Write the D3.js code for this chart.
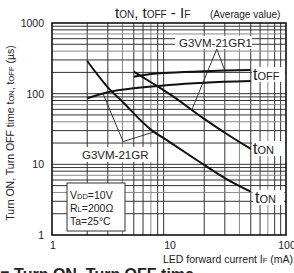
<!DOCTYPE html>
<html>
<head>
  <script src="https://d3js.org/d3.v7.min.js"></script>
  <style>
    body { margin: 0; background: #fff; }
    text { font-family: "Liberation Sans", Arial, sans-serif; fill: #222; }
  </style>
</head>
<body>
  <div id="chart"></div>

  <script>
    // values (IF in mA, time in microseconds)
    var xTicks = [1, 10, 100];
    var yTicks = [1, 10, 100, 1000];

    var gr1OffIf = [5, 7, 10, 20, 30, 50];
    var gr1Toff  = [174, 190, 198, 208, 212, 216];
    var grOffIf  = [2, 3, 5, 10, 20, 50];
    var grToff   = [86, 105, 119, 133, 143, 151];
    var gr1OnIf  = [5, 7, 10, 20, 30, 50];
    var gr1Ton   = [205, 145, 100, 44, 28, 16.5];
    var grOnIf   = [2, 3, 4, 7, 10, 20, 30, 50];
    var grTon    = [290, 123, 77, 31, 21, 9.8, 6.4, 4.1];

    // leader lines: [vertex, end1, end2]
    var gr1Leader = [[25.6, 428], [30, 212], [15.6, 58]];
    var grLeader  = [[4.05, 21], [2.73, 100], [7.6, 29]];

    var width = 294, height = 273;
    var margin = {top: 23, left: 52, right: 8, bottom: 38};

    var x = d3.scaleLog().domain([1, 100]).range([margin.left, width - margin.right]);
    var y = d3.scaleLog().domain([1, 1000]).range([height - margin.bottom, margin.top]);

    var svg = d3.select("#chart").append("svg")
      .attr("width", width)
      .attr("height", height);

    // grid at every minor step
    var gx = [], gy = [];
    [1, 10].forEach(function(d) { for (var i = 2; i <= 9; i++) gx.push(d * i); });
    [1, 10, 100].forEach(function(d) { for (var i = 2; i <= 9; i++) gy.push(d * i); });
    var grey = function(i) { return (i === 4 || i === 7) ? "#8a8a8a" : "#333"; };

    svg.append("g").selectAll("line").data(gx).enter().append("line")
      .attr("x1", function(d) { return x(d); })
      .attr("x2", function(d) { return x(d); })
      .attr("y1", y(1)).attr("y2", y(1000))
      .attr("stroke", function(d) { return grey(Math.round(d / Math.pow(10, Math.floor(Math.log10(d) + 1e-9)))); })
      .attr("stroke-width", 1);

    svg.append("g").selectAll("line").data(gy.concat([10, 100])).enter().append("line")
      .attr("y1", function(d) { return y(d); })
      .attr("y2", function(d) { return y(d); })
      .attr("x1", x(1)).attr("x2", x(100))
      .attr("stroke", function(d) { return grey(Math.round(d / Math.pow(10, Math.floor(Math.log10(d) + 1e-9)))); })
      .attr("stroke-width", 1);

    svg.append("rect")
      .attr("x", x(1)).attr("y", y(1000))
      .attr("width", x(100) - x(1)).attr("height", y(1) - y(1000))
      .attr("fill", "none").attr("stroke", "#111").attr("stroke-width", 1.6);

    // tick labels
    svg.append("g").selectAll("text").data(yTicks).enter().append("text")
      .attr("x", x(1) - 8).attr("y", function(d) { return y(d) + 4; })
      .attr("text-anchor", "end").attr("font-size", 10.5)
      .text(function(d) { return d; });

    svg.append("g").selectAll("text").data(xTicks).enter().append("text")
      .attr("x", function(d) { return x(d) + 1; }).attr("y", y(1) + 14)
      .attr("text-anchor", "middle").attr("font-size", 10.5)
      .text(function(d) { return d; });

    // curves
    var line = d3.line()
      .x(function(d) { return x(d[0]); })
      .y(function(d) { return y(d[1]); })
      .curve(d3.curveMonotoneX);

    function pairs(a, b) { return a.map(function(v, i) { return [v, b[i]]; }); }

    [pairs(gr1OffIf, gr1Toff), pairs(grOffIf, grToff), pairs(gr1OnIf, gr1Ton), pairs(grOnIf, grTon)]
      .forEach(function(s) {
        svg.append("path").datum(s)
          .attr("d", line)
          .attr("fill", "none")
          .attr("stroke", "#111")
          .attr("stroke-width", 2);
      });

    // leaders
    [gr1Leader, grLeader].forEach(function(l) {
      svg.append("path")
        .attr("d", "M" + x(l[1][0]) + "," + y(l[1][1]) + "L" + x(l[0][0]) + "," + y(l[0][1]) +
                   "L" + x(l[2][0]) + "," + y(l[2][1]))
        .attr("fill", "none").attr("stroke", "#222").attr("stroke-width", 0.9);
    });

    // white-backed labels
    function label(tx, ty, bx, by, bw, bh, parts, size) {
      svg.append("rect").attr("x", bx).attr("y", by).attr("width", bw).attr("height", bh)
        .attr("fill", "#fff");
      var t = svg.append("text").attr("x", tx).attr("y", ty).attr("font-size", size);
      parts.forEach(function(p) {
        t.append("tspan").attr("font-size", p[1] || size).text(p[0]);
      });
    }

    label(179, 47, 175, 36, 77, 13, [["G3VM-21GR1"]], 11.5);
    label(82, 159, 77, 147, 75, 15, [["G3VM-21GR"]], 11.5);
    label(253, 80, 252, 67, 33, 15, [["t", 16], ["OFF", 11]], 16);
    label(253, 154, 252, 141, 33, 15, [["t", 16], ["ON", 11]], 16);
    label(255, 203, 253, 190, 31, 15, [["t", 16], ["ON", 11]], 16);

    // conditions box
    svg.append("rect").attr("x", 67).attr("y", 183).attr("width", 58).attr("height", 48)
      .attr("fill", "#fff").attr("stroke", "#333").attr("stroke-width", 1);
    var cond = [[["V"], ["DD", 7.5], ["=10V"]], [["R"], ["L", 7.5], ["=200\u03a9"]], [["Ta=25\u00b0C"]]];
    cond.forEach(function(row, i) {
      var t = svg.append("text").attr("x", 70).attr("y", 199 + i * 13).attr("font-size", 10.5);
      row.forEach(function(p) { t.append("tspan").attr("font-size", p[1] || 10.5).text(p[0]); });
    });

    // title
    var title = svg.append("text").attr("x", 115).attr("y", 18).attr("font-size", 15);
    [["t", 15], ["ON", 10], [", t", 15], ["OFF", 10], [" - I", 15], ["F", 10]].forEach(function(p) {
      title.append("tspan").attr("font-size", p[1]).text(p[0]);
    });
    svg.append("text").attr("x", 210).attr("y", 18).attr("font-size", 10)
      .text("(Average value)");

    // axis titles
    var xt = svg.append("text").attr("x", 293).attr("y", 263).attr("text-anchor", "end")
      .attr("font-size", 10.5);
    [["LED forward current I", 10.5], ["F", 7.5], [" (mA)", 10.5]].forEach(function(p) {
      xt.append("tspan").attr("font-size", p[1]).text(p[0]);
    });

    var yt = svg.append("text").attr("transform", "translate(14,133) rotate(-90)")
      .attr("text-anchor", "middle").attr("font-size", 10.5);
    [["Turn ON, Turn OFF time t", 10.5], ["ON", 7.5], [", t", 10.5], ["OFF", 7.5], [" (\u00b5s)", 10.5]].forEach(function(p) {
      yt.append("tspan").attr("font-size", p[1]).text(p[0]);
    });

    // caption cut by the bottom edge
    svg.append("text").attr("x", 0).attr("y", 280).attr("font-size", 16).attr("font-weight", "bold")
      .text("\u25a0 Turn ON, Turn OFF time");
  </script>
</body>
</html>
